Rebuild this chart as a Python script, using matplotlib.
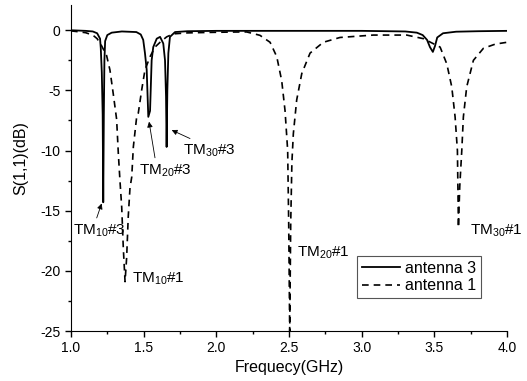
import matplotlib
matplotlib.use("Agg")
import matplotlib.pyplot as plt
from matplotlib.ticker import MultipleLocator

plt.rcParams['font.family'] = ['Liberation Sans', 'DejaVu Sans']
plt.rcParams['mathtext.default'] = 'regular'
plt.rcParams['axes.unicode_minus'] = False

# antenna 3 (solid)
freq3 = [1.00, 1.10, 1.15, 1.18, 1.20, 1.205, 1.212, 1.218, 1.222, 1.226, 1.230,
         1.235, 1.25, 1.28, 1.35, 1.45, 1.48, 1.497, 1.509, 1.521, 1.532, 1.544,
         1.555, 1.566, 1.59, 1.613, 1.635, 1.647, 1.654, 1.658, 1.663, 1.67, 1.681,
         1.716, 1.80, 2.00, 3.00, 3.30, 3.38, 3.42, 3.45, 3.47, 3.49, 3.505, 3.52,
         3.56, 3.65, 3.80, 4.00]
s11_3 = [0.0, -0.05, -0.1, -0.25, -0.7, -1.5, -3.5, -7.0, -14.3, -7.0, -2.5,
         -0.9, -0.4, -0.2, -0.1, -0.15, -0.35, -0.8, -1.9, -3.3, -7.2, -6.7,
         -2.5, -1.4, -0.7, -0.55, -1.1, -2.5, -5.5, -9.7, -5.0, -1.9, -0.55,
         -0.15, -0.08, -0.05, -0.05, -0.1, -0.2, -0.4, -0.8, -1.4, -1.8, -1.3, -0.6,
         -0.25, -0.12, -0.08, -0.05]

# antenna 1 (dashed)
freq1 = [1.00, 1.10, 1.15, 1.18, 1.211, 1.245, 1.268, 1.291, 1.314, 1.326, 1.337,
         1.349, 1.36, 1.372, 1.383, 1.394, 1.406, 1.418, 1.429, 1.452, 1.463, 1.486,
         1.509, 1.544, 1.578, 1.613, 1.658, 1.704, 1.80, 1.95, 2.10, 2.209, 2.30,
         2.37, 2.416, 2.45, 2.473, 2.491, 2.498, 2.505, 2.512, 2.52, 2.53, 2.553,
         2.588, 2.645, 2.736, 2.851, 3.08, 3.31, 3.425, 3.54, 3.586, 3.62, 3.643,
         3.659, 3.666, 3.675, 3.689, 3.70, 3.723, 3.769, 3.838, 3.92, 4.00]
s11_1 = [-0.05, -0.2, -0.4, -0.7, -1.3, -2.1, -3.3, -5.3, -7.4, -10.3, -12.5,
         -14.7, -18.1, -20.9, -18.9, -15.5, -13.1, -12.2, -9.7, -7.2, -6.9, -5.0,
         -3.3, -2.2, -1.4, -1.0, -0.55, -0.3, -0.22, -0.18, -0.15, -0.14, -0.42,
         -1.0, -2.2, -4.2, -6.7, -10.0, -16.0, -25.0, -16.0, -11.0, -8.6, -5.8,
         -3.6, -1.9, -1.0, -0.6, -0.4, -0.4, -0.7, -1.4, -2.8, -4.7, -7.2,
         -10.0, -16.4, -13.0, -10.0, -7.2, -4.7, -2.5, -1.5, -1.15, -1.0]

fig = plt.figure(figsize=(5.27, 3.81), dpi=100)
ax = fig.add_axes([0.1347, 0.1312, 0.8273, 0.8557])

ax.plot(freq3, s11_3, color='black', lw=1.3, label='antenna 3')
ax.plot(freq1, s11_1, color='black', lw=1.2, linestyle=(0, (4, 3)), label='antenna 1')

ax.set_xlim(1.0, 4.0)
ax.set_ylim(-25, 2.1)
ax.xaxis.set_major_locator(MultipleLocator(0.5))
ax.xaxis.set_minor_locator(MultipleLocator(0.25))
ax.yaxis.set_major_locator(MultipleLocator(5))
ax.yaxis.set_minor_locator(MultipleLocator(2.5))
ax.set_yticks([0, -5, -10, -15, -20, -25])
ax.tick_params(which='major', direction='out', length=4, width=1, labelsize=10)
ax.tick_params(which='minor', direction='out', length=2.5, width=1)
for side in ['top', 'right']:
    ax.spines[side].set_visible(False)

ax.set_xlabel('Frequecy(GHz)', fontsize=11.5, labelpad=3)
ax.set_ylabel('S(1,1)(dB)', fontsize=11.5)
ax.yaxis.set_label_coords(-0.099, 0.53)

fs = 11
arr = dict(arrowstyle='-|>', lw=0.6, color='black', mutation_scale=8, shrinkA=0, shrinkB=0)
ax.text(1.012, -16.7, r'TM$_{10}$#3', fontsize=fs, va='center', ha='left')
ax.annotate('', xy=(1.211, -14.4), xytext=(1.177, -15.6), arrowprops=arr)
ax.text(1.418, -20.7, r'TM$_{10}$#1', fontsize=fs, va='center', ha='left')
ax.text(1.470, -11.7, r'TM$_{20}$#3', fontsize=fs, va='center', ha='left')
ax.annotate('', xy=(1.537, -7.6), xytext=(1.578, -10.6), arrowprops=arr)
ax.text(1.773, -10.0, r'TM$_{30}$#3', fontsize=fs, va='center', ha='left')
ax.annotate('', xy=(1.693, -8.3), xytext=(1.819, -9.0), arrowprops=arr)
ax.text(2.553, -18.5, r'TM$_{20}$#1', fontsize=fs, va='center', ha='left')
ax.text(3.746, -16.7, r'TM$_{30}$#1', fontsize=fs, va='center', ha='left')

leg = ax.legend(loc='lower left', bbox_to_anchor=(0.656, 0.101), borderaxespad=0,
                fontsize=11.5, handlelength=2.4, handletextpad=0.3, borderpad=0.3,
                labelspacing=0.15, fancybox=False, framealpha=1)
leg.get_frame().set_edgecolor('#555555')
leg.get_frame().set_linewidth(0.8)

fig.savefig('out.png', dpi=100)
